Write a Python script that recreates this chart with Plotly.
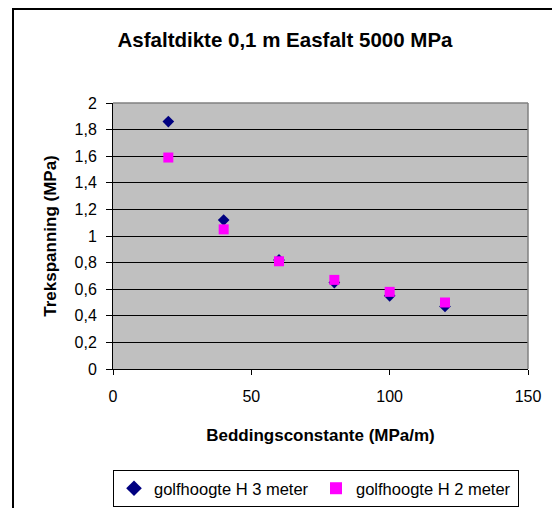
import plotly.graph_objects as go

x_vals = [20, 40, 60, 80, 100, 120]
h3_vals = [1.86, 1.12, 0.82, 0.65, 0.55, 0.47]
h2_vals = [1.59, 1.05, 0.81, 0.67, 0.58, 0.50]
series_names = ["golfhoogte H 3 meter", "golfhoogte H 2 meter"]
y_tickvals = [0, 0.2, 0.4, 0.6, 0.8, 1.0, 1.2, 1.4, 1.6, 1.8, 2.0]
y_ticktext = ["0", "0,2", "0,4", "0,6", "0,8", "1", "1,2", "1,4", "1,6", "1,8", "2"]
x_tickvals = [0, 50, 100, 150]

# page has an 8px body margin, so the figure is 8px smaller than the window
W, H = 552, 500
L, R, T, B = 105, 32, 95, 139
pw, ph = W - L - R, H - T - B

def px(xp):
    return (xp - L) / pw

def py(yp):
    return (H - B - yp) / ph

FONT = "Arial, Liberation Sans, sans-serif"

fig = go.Figure()
fig.add_trace(go.Scatter(x=x_vals, y=h3_vals, mode="markers", name=series_names[0],
                         marker=dict(symbol="diamond", size=9, color="#000080")))
fig.add_trace(go.Scatter(x=x_vals, y=h2_vals, mode="markers", name=series_names[1],
                         marker=dict(symbol="square", size=10, color="#FF00FF")))

fig.update_layout(
    width=W, height=H,
    margin=dict(l=L, r=R, t=T, b=B, pad=0, autoexpand=False),
    paper_bgcolor="white",
    plot_bgcolor="#C0C0C0",
    font=dict(family=FONT, size=16, color="black"),
    title=dict(text="<b>Asfaltdikte 0,1 m Easfalt 5000 MPa</b>", x=277 / W, xref="container",
               xanchor="center", y=1 - 32 / H, yref="container", yanchor="middle",
               font=dict(size=20.5)),
    showlegend=True,
    legend=dict(orientation="h", x=0, xanchor="left", y=py(462), yanchor="top",
                bordercolor="black", borderwidth=1, bgcolor="white",
                font=dict(size=16.5), itemsizing="constant", traceorder="normal",
                entrywidth=157, itemwidth=30, tracegroupgap=0),
    xaxis=dict(range=[0, 150], tickvals=x_tickvals, showgrid=False, zeroline=False,
               ticks="outside", ticklen=5, tickcolor="black", showline=True,
               linecolor="black", linewidth=1, mirror=False, automargin=False,
               ticklabelstandoff=8,
               title=dict(text="<b>Beddingsconstante (MPa/m)</b>", font=dict(size=17), standoff=24),
               tickfont=dict(size=16)),
    yaxis=dict(range=[0, 2], tickvals=y_tickvals, ticktext=y_ticktext, showgrid=True,
               gridcolor="black", gridwidth=1, zeroline=False, automargin=False,
               ticks="outside", ticklen=6, tickcolor="black", showline=True,
               linecolor="black", linewidth=1, ticklabelstandoff=6,
               title=dict(text="<b>Trekspanning (MPa)</b>", font=dict(size=17), standoff=13),
               tickfont=dict(size=16)),
)

# plot area border (gray top/right)
fig.add_shape(type="line", xref="paper", yref="paper", x0=0, x1=1, y0=1, y1=1,
              line=dict(color="#808080", width=1.5), layer="above")
fig.add_shape(type="line", xref="paper", yref="paper", x0=1, x1=1, y0=0, y1=1,
              line=dict(color="#808080", width=1.5), layer="above")
# outer chart frame
fig.add_shape(type="rect", xref="paper", yref="paper",
              x0=px(5), x1=px(580), y0=py(530), y1=py(1),
              line=dict(color="black", width=2))

fig.write_html("out.html")
